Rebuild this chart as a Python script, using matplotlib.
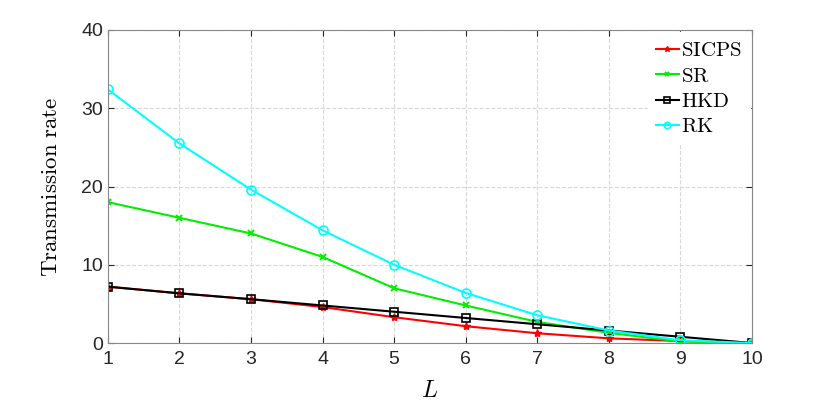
import matplotlib.pyplot as plt

plt.rcParams['mathtext.fontset'] = 'cm'

L = [1, 2, 3, 4, 5, 6, 7, 8, 9, 10]
sicps = [7.2, 6.35, 5.6, 4.6, 3.3, 2.15, 1.25, 0.6, 0.25, 0.0]
sr = [18.0, 16.0, 14.0, 11.0, 7.0, 4.8, 2.7, 1.3, 0.2, 0.0]
hkd = [7.2, 6.35, 5.6, 4.8, 4.0, 3.2, 2.4, 1.6, 0.8, 0.0]
rk = [32.4, 25.5, 19.6, 14.4, 10.0, 6.4, 3.55, 1.6, 0.35, 0.0]

fig = plt.figure(figsize=(8.3, 4.05), dpi=100)
ax = fig.add_axes([0.130, 0.153, 0.776, 0.773])

ax.plot(L, sicps, color='red', marker='*', markersize=6, lw=1.5, label=r'$\mathrm{SICPS}$')
ax.plot(L, sr, color='#00ee00', marker='x', markersize=4.5, mew=1.4, lw=1.5, label=r'$\mathrm{SR}$')
ax.plot(L, hkd, color='black', marker='s', markersize=5.5, mfc='none', mew=1.2, lw=1.5, label=r'$\mathrm{HKD}$')
ax.plot(L, rk, color='cyan', marker='o', markersize=6.5, mfc='none', mew=1.2, lw=1.5, label=r'$\mathrm{RK}$')

ax.set_xlim(1, 10)
ax.set_ylim(0, 40)
ax.set_xticks(L)
ax.set_yticks([0, 10, 20, 30, 40])
ax.tick_params(direction='in', labelsize=14, colors='#262626', length=4, top=True, right=True)
for lab in ax.get_xticklabels() + ax.get_yticklabels():
    lab.set_family('Liberation Sans')
ax.tick_params(axis='x', pad=6)
for s in ax.spines.values():
    s.set_color('#888888')
ax.grid(True, ls='--', color='#d9d9d9', lw=0.8)

ax.set_xlabel(r'$L$', fontsize=17, labelpad=7)
ax.set_ylabel(r'$\mathrm{Transmission\ rate}$', fontsize=16.5, labelpad=14)

leg = ax.legend(loc='upper right', frameon=True, fancybox=False, edgecolor='white',
                fontsize=15, handlelength=1.1, markerscale=0.7,
                handletextpad=0.1, labelspacing=0.25, borderaxespad=0.1)
leg.get_frame().set_alpha(1)

fig.savefig('out.png', dpi=100)
